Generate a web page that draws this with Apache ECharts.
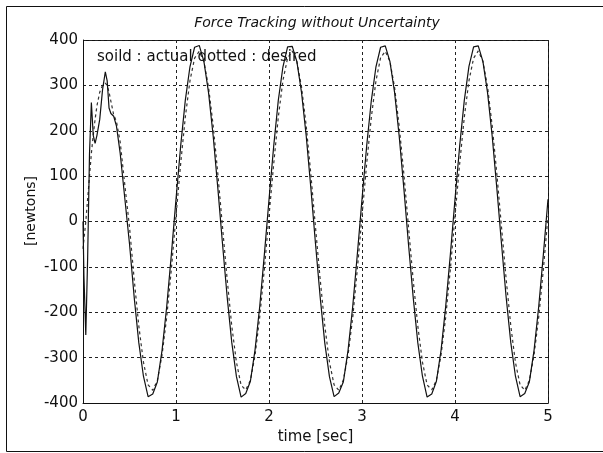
<!DOCTYPE html>
<html>
<head>
<meta charset="utf-8">
<script src="https://cdn.jsdelivr.net/npm/echarts@6/dist/echarts.min.js"></script>
<style>
  html, body { margin: 0; padding: 0; background: #fff; }
  #chart { width: 603px; height: 453px; }
</style>
</head>
<body>
<div id="chart"></div>
<script>
// time samples [sec]
var time = [
  0, 0.01, 0.03, 0.05, 0.07, 0.09, 0.11, 0.13, 0.15, 0.18, 0.21, 0.24, 0.26, 0.28, 0.30, 0.33, 0.36, 0.40, 0.45,
  0.50, 0.55, 0.60, 0.65, 0.70, 0.75, 0.80, 0.85, 0.90, 0.95,
  1.00, 1.05, 1.10, 1.15, 1.20, 1.25, 1.30, 1.35, 1.40, 1.45,
  1.50, 1.55, 1.60, 1.65, 1.70, 1.75, 1.80, 1.85, 1.90, 1.95,
  2.00, 2.05, 2.10, 2.15, 2.20, 2.25, 2.30, 2.35, 2.40, 2.45,
  2.50, 2.55, 2.60, 2.65, 2.70, 2.75, 2.80, 2.85, 2.90, 2.95,
  3.00, 3.05, 3.10, 3.15, 3.20, 3.25, 3.30, 3.35, 3.40, 3.45,
  3.50, 3.55, 3.60, 3.65, 3.70, 3.75, 3.80, 3.85, 3.90, 3.95,
  4.00, 4.05, 4.10, 4.15, 4.20, 4.25, 4.30, 4.35, 4.40, 4.45,
  4.50, 4.55, 4.60, 4.65, 4.70, 4.75, 4.80, 4.85, 4.90, 4.95,
  5.00
];

// solid : actual force [newtons]
var actual = [
  0, -120, -250, -80, 150, 262, 190, 172, 190, 225, 290, 330, 310, 250, 238, 232, 210, 150, 50,
  -49, -166, -267, -341, -386, -380, -353, -284, -188, -73,
  49, 166, 267, 341, 384, 388, 353, 284, 188, 73,
  -49, -166, -267, -342, -387, -379, -352, -283, -188, -73,
  48, 165, 267, 341, 385, 386, 352, 284, 189, 74,
  -49, -166, -268, -342, -386, -378, -353, -284, -188, -72,
  49, 166, 266, 341, 384, 387, 353, 285, 188, 73,
  -50, -166, -267, -341, -387, -380, -352, -284, -187, -73,
  49, 166, 267, 342, 385, 387, 353, 284, 188, 73,
  -49, -167, -267, -341, -386, -379, -353, -284, -188, -73,
  49
];

// dotted : desired force [newtons]
var desired = [
  -60, -40, 0, 50, 100, 150, 190, 225, 255, 285, 300, 305, 300, 285, 265, 235, 220, 175, 80,
  -12, -127, -230, -310, -360, -372, -350, -294, -211, -105,
  12, 127, 230, 310, 360, 375, 353, 296, 211, 105,
  -12, -127, -231, -310, -361, -371, -350, -295, -211, -105,
  12, 126, 230, 311, 360, 376, 352, 296, 211, 104,
  -13, -127, -230, -310, -360, -372, -349, -294, -212, -105,
  12, 127, 229, 310, 361, 375, 353, 296, 210, 105,
  -12, -128, -230, -310, -360, -371, -350, -294, -211, -105,
  12, 127, 230, 310, 360, 376, 353, 297, 211, 105,
  -12, -127, -230, -311, -360, -372, -350, -294, -211, -106,
  12
];

var xTicks = [0, 1, 2, 3, 4, 5];
var yTicks = [-400, -300, -200, -100, 0, 100, 200, 300, 400];

function pairs(xs, ys) {
  return xs.map(function (x, i) { return [x, ys[i]]; });
}

var chart = echarts.init(document.getElementById('chart'));
var font = 'DejaVu Sans, Liberation Sans, Arial, sans-serif';

chart.setOption({
  backgroundColor: '#fff',
  animation: false,
  title: [
    {
      text: 'Force Tracking without Uncertainty',
      left: 312,
      top: 11,
      textAlign: 'center',
      textStyle: { fontFamily: font, fontSize: 14, fontWeight: 'normal', fontStyle: 'italic', color: '#111' }
    },
    {
      text: 'soild : actual dotted : desired',
      left: 92,
      top: 45,
      textStyle: { fontFamily: font, fontSize: 15, fontWeight: 'normal', color: '#111' }
    }
  ],
  grid: { left: 83, right: 55, top: 40, bottom: 50 },
  xAxis: {
    type: 'value',
    min: xTicks[0],
    max: xTicks[xTicks.length - 1],
    interval: 1,
    name: 'time [sec]',
    nameLocation: 'middle',
    nameGap: 25,
    nameTextStyle: { fontFamily: font, fontSize: 15, color: '#111' },
    axisLine: { show: true, onZero: false, lineStyle: { color: '#111', width: 1 } },
    axisTick: { show: false },
    axisLabel: { fontFamily: font, fontSize: 15, color: '#111', margin: 7 },
    splitLine: { show: true, lineStyle: { color: '#222', type: [3, 3], width: 1 } }
  },
  yAxis: {
    type: 'value',
    min: yTicks[0],
    max: yTicks[yTicks.length - 1],
    interval: 100,
    axisLine: { show: true, onZero: false, lineStyle: { color: '#111', width: 1 } },
    axisTick: { show: false },
    axisLabel: { fontFamily: font, fontSize: 15, color: '#111', margin: 5 },
    splitLine: { show: true, lineStyle: { color: '#222', type: [3, 3], width: 1 } }
  },
  graphic: [
    {
      type: 'polyline',
      silent: true,
      shape: { points: [[603, 6.5], [6.5, 6.5], [6.5, 451.5], [603, 451.5]] },
      style: { stroke: '#111', lineWidth: 1, fill: null }
    },
    {
      type: 'polyline',
      silent: true,
      shape: { points: [[83.5, 40.5], [548.5, 40.5], [548.5, 403.5]] },
      style: { stroke: '#111', lineWidth: 1, fill: null }
    },
    {
      type: 'text',
      silent: true,
      x: 31,
      y: 211,
      rotation: Math.PI / 2,
      style: {
        text: '[newtons]',
        fontFamily: font,
        fontSize: 14,
        fill: '#111',
        align: 'center',
        verticalAlign: 'middle'
      }
    }
  ],
  series: [
    {
      name: 'actual',
      type: 'line',
      data: pairs(time, actual),
      showSymbol: false,
      lineStyle: { color: '#111', width: 1.2 },
      z: 3
    },
    {
      name: 'desired',
      type: 'line',
      data: pairs(time, desired),
      showSymbol: false,
      lineStyle: { color: '#333', width: 1.2, type: [3, 3] },
      z: 2
    }
  ]
});
</script>
</body>
</html>
